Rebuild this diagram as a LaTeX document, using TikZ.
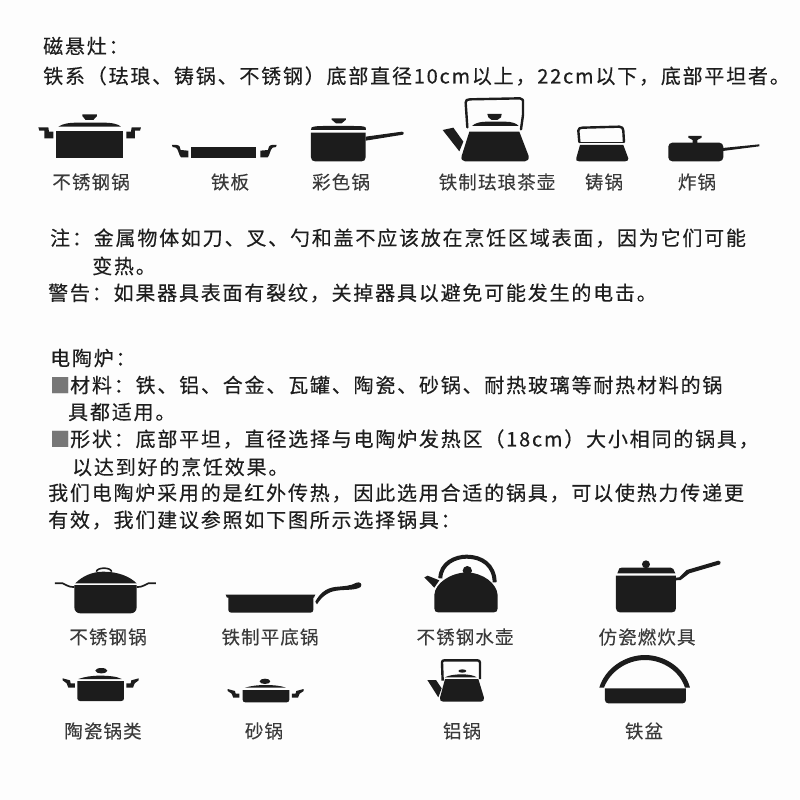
\documentclass[tikz,border=0pt]{standalone}
\usepackage{fontspec}
\newfontfamily\cjk[LetterSpace=9,FakeBold=0.3]{Noto Sans CJK SC}
\newfontfamily\cjklab[LetterSpace=6,FakeBold=0.15]{Noto Sans CJK SC}
\definecolor{bgc}{HTML}{FDFDFD}
\definecolor{ink}{HTML}{1C1C1C}
\definecolor{txt}{HTML}{1E1E1E}
\definecolor{lab}{HTML}{3A3A3A}
\definecolor{sq}{HTML}{777777}
\tikzset{
 body/.style={anchor=west,inner sep=0pt,text=txt,font=\cjk\fontsize{20pt}{22pt}\selectfont},
 lbl/.style={anchor=center,inner sep=0pt,text=lab,font=\cjklab\fontsize{18.5pt}{20pt}\selectfont},
 solid shape/.style={fill=ink,draw=none},
 wire/.style={draw=ink,line width=2.4pt,line cap=round,line join=round,fill=none},
 z1/.style={shift={(20,90)},x=0.3333pt,y=-0.3333pt},
 z2/.style={shift={(410,90)},x=0.3333pt,y=-0.3333pt},
 z3/.style={shift={(40,545)},x=0.3333pt,y=-0.3333pt},
 z4/.style={shift={(400,545)},x=0.3333pt,y=-0.3333pt},
 z5/.style={shift={(40,655)},x=0.3333pt,y=-0.3333pt},
 z6/.style={shift={(400,650)},x=0.3333pt,y=-0.3333pt},
}
\newcommand{\sqb}{\textcolor{sq}{■}}
\begin{document}
\begin{tikzpicture}[x=1pt,y=-1pt]
\fill[bgc] (0,0) rectangle (800,800);
\useasboundingbox (0,0) rectangle (800,800);
% text
\node[body] (t1) at (43,46) {磁悬灶：};
\node[body] (t2) at (43,76) {铁系（珐琅、铸锅、不锈钢）底部直径10cm以上，22cm以下，底部平坦者。};
\node[body] (t3) at (50,238) {注：金属物体如刀、叉、勺和盖不应该放在烹饪区域表面，因为它们可能};
\node[body] (t4) at (92,266) {变热。};
\node[body] (t5) at (48,293) {警告：如果器具表面有裂纹，关掉器具以避免可能发生的电击。};
\node[body] (t6) at (50,358) {电陶炉：};
\node[body] (t7) at (50,385) {\sqb 材料：铁、铝、合金、瓦罐、陶瓷、砂锅、耐热玻璃等耐热材料的锅};
\node[body] (t8) at (68,412) {具都适用。};
\node[body] (t9) at (50,439) {\sqb 形状：底部平坦，直径选择与电陶炉发热区（18cm）大小相同的锅具，};
\node[body] (t10) at (72,467) {以达到好的烹饪效果。};
\node[body] (t11) at (48,493) {我们电陶炉采用的是红外传热，因此选用合适的锅具，可以使热力传递更};
\node[body] (t12) at (48,520) {有效，我们建议参照如下图所示选择锅具：};
% labels
\node[lbl] (a1) at (91,182) {不锈钢锅};
\node[lbl] (a2) at (230,182) {铁板};
\node[lbl] (a3) at (341,182) {彩色锅};
\node[lbl] (a4) at (497,182) {铁制珐琅茶壶};
\node[lbl] (a5) at (604,182) {铸锅};
\node[lbl] (a6) at (697,182) {炸锅};
\node[lbl] (b1) at (108,637) {不锈钢锅};
\node[lbl] (b2) at (270,637) {铁制平底锅};
\node[lbl] (b3) at (465,637) {不锈钢水壶};
\node[lbl] (b4) at (647,637) {仿瓷燃炊具};
\node[lbl] (c1) at (103,731) {陶瓷锅类};
\node[lbl] (c2) at (264,731) {砂锅};
\node[lbl] (c3) at (462,731) {铝锅};
\node[lbl] (c4) at (644,731) {铁盆};
% row 1
\begin{scope}[z1]
 \fill[solid shape] (108,122) rectangle (310,203);
 \fill[solid shape] (115,110) .. controls (130,100) and (150,98) .. (170,98) -- (250,98) .. controls (275,98) and (295,102) .. (303,110) -- cycle;
 \fill[solid shape] (187,73) -- (231,73) -- (231,78) -- (220,90) -- (197,90) -- (187,78) -- cycle;
 \fill[solid shape] (55,112) -- (85,112) -- (87,125) -- (100,125) -- (100,145) -- (73,145) -- (73,122) -- (58,122) -- cycle;
 \fill[solid shape] (363,112) -- (335,112) -- (333,125) -- (319,125) -- (319,145) -- (345,145) -- (345,122) -- (360,122) -- cycle;
 \fill[solid shape] (514,172) rectangle (708,203);
 \fill[solid shape] (456,165) -- (470,165) .. controls (480,166) and (480,172) .. (482,180) -- (505,182) -- (505,202) -- (483,202) .. controls (476,196) and (476,178) .. (468,173) -- (458,171) -- cycle;
 \fill[solid shape] (770,165) -- (756,165) .. controls (746,166) and (746,172) .. (744,180) -- (721,182) -- (721,202) -- (743,202) .. controls (750,196) and (750,178) .. (758,173) -- (768,171) -- cycle;
 \fill[solid shape] (873,128) -- (1037,128) -- (1037,202) .. controls (1037,210) and (1032,214) .. (1025,214) -- (885,214) .. controls (878,214) and (873,210) .. (873,202) -- cycle;
 \fill[solid shape] (873,120) -- (875,112) .. controls (885,108) and (900,108) .. (910,108) -- (1000,108) .. controls (1020,108) and (1030,108) .. (1037,112) -- (1038,120) -- cycle;
 \fill[solid shape] (935,85) -- (978,85) -- (978,89) -- (965,100) -- (948,100) -- (935,89) -- cycle;
 \fill[solid shape] (1037,140) -- (1146,125) .. controls (1152,125) and (1154,131) .. (1149,134) -- (1037,152) -- cycle;
\end{scope}
\begin{scope}[z2]
 \fill[solid shape] (178,125) -- (328,125) -- (356,198) .. controls (358,208) and (352,214) .. (345,214) -- (165,214) .. controls (158,214) and (152,208) .. (155,198) -- cycle;
 \fill[solid shape] (98,120) -- (130,113) -- (160,155) -- (148,184) -- cycle;
 \fill[solid shape] (186,108) .. controls (195,98) and (215,95) .. (230,95) -- (285,95) .. controls (305,95) and (320,100) .. (326,108) -- cycle;
 \fill[solid shape] (232,72) -- (275,72) -- (273,82) -- (262,90) -- (245,90) -- (235,82) -- cycle;
 \draw[wire] (172,112) -- (167,38) .. controls (166,30) and (172,28) .. (180,28) -- (330,25) .. controls (338,26) and (340,30) .. (339,40) -- (339,75) -- (333,118);
 \fill[solid shape] (510,165) -- (640,165) -- (655,205) .. controls (656,211) and (652,214) .. (645,214) -- (507,214) .. controls (500,214) and (496,210) .. (499,204) -- cycle;
 \draw[wire] (508,156) -- (505,122) .. controls (505,115) and (510,113) .. (518,113) -- (628,110) .. controls (636,110) and (640,115) .. (640,122) -- (642,156);
 \draw[draw=ink,line width=1pt] (507,159) -- (643,159);
 \fill[solid shape,rounded corners=4pt] (775,158) rectangle (940,214);
 \fill[solid shape] (835,138) -- (875,138) -- (875,143) -- (862,150) -- (862,160) -- (848,160) -- (848,150) -- (835,143) -- cycle;
 \fill[solid shape] (938,174) -- (1048,163) -- (1048,169) -- (938,183) -- cycle;
\end{scope}
% row 2
\begin{scope}[z3]
 \fill[solid shape] (103,120) -- (290,120) -- (290,187) .. controls (290,198) and (282,205) .. (272,205) -- (121,205) .. controls (111,205) and (103,198) .. (103,187) -- cycle;
 \fill[solid shape] (106,115) .. controls (125,95) and (155,80) .. (190,80) .. controls (235,80) and (270,95) .. (290,115) -- cycle;
 \draw[draw=ink,line width=1.6pt] (169,80) .. controls (172,66) and (212,66) .. (215,80);
 \draw[draw=ink,line width=1.7pt] (45,115) -- (68,115) .. controls (78,116) and (78,126) .. (103,126);
 \draw[draw=ink,line width=1.7pt] (290,126) .. controls (315,126) and (315,116) .. (325,115) -- (348,115);
 \fill[solid shape] (557,149) -- (826,149) -- (822,158) -- (820,158) -- (820,195) .. controls (820,200) and (816,203) .. (811,203) -- (574,203) .. controls (569,203) and (565,200) .. (565,195) -- (565,158) -- (561,158) -- cycle;
 \fill[solid shape] (826,170) .. controls (838,148) and (855,130) .. (885,126) .. controls (910,123) and (930,124) .. (950,113) .. controls (960,109) and (968,117) .. (962,126) .. controls (945,137) and (915,133) .. (890,137) .. controls (865,140) and (845,155) .. (831,178) -- cycle;
\end{scope}
\begin{scope}[z4]
 \fill[solid shape] (103,150) .. controls (105,115) and (150,84) .. (200,82) .. controls (250,84) and (290,115) .. (293,150) -- (293,190) .. controls (293,198) and (289,202) .. (282,202) -- (114,202) .. controls (107,202) and (103,198) .. (103,190) -- cycle;
 \fill[solid shape] (73,97) -- (83,92) -- (118,106) -- (103,128) -- cycle;
 \fill[solid shape] (202,77) circle[radius=14];
 \draw[draw=ink,line width=4pt] (121,100) .. controls (122,55) and (165,35) .. (200,35) .. controls (245,35) and (283,60) .. (284,112);
 \fill[solid shape] (648,92) -- (828,92) -- (828,190) .. controls (828,198) and (823,202) .. (816,202) -- (660,202) .. controls (653,202) and (648,198) .. (648,190) -- cycle;
 \fill[solid shape] (652,85) -- (658,70) .. controls (660,68) and (662,68) .. (665,68) -- (812,68) .. controls (816,68) and (818,69) .. (820,72) -- (826,85) -- cycle;
 \fill[solid shape] (738,58) circle[radius=12];
 \fill[solid shape] (828,98) -- (838,97) -- (860,75) -- (955,47) .. controls (962,46) and (965,54) .. (960,58) -- (868,85) -- (842,105) -- (828,106) -- cycle;
\end{scope}
% row 3
\begin{scope}[z5]
 \fill[solid shape] (112,78) -- (252,78) -- (252,130) .. controls (252,135) and (249,138) .. (244,138) -- (120,138) .. controls (115,138) and (112,135) .. (112,130) -- cycle;
 \fill[solid shape] (115,72) .. controls (135,65) and (155,62) .. (180,62) .. controls (210,62) and (232,65) .. (245,72) -- cycle;
 \fill[solid shape] (184,47) ellipse[x radius=18,y radius=8];
 \fill[solid shape] (68,70) -- (90,76) -- (92,85) -- (105,85) -- (105,98) -- (85,98) -- (80,85) -- (68,76) -- cycle;
 \fill[solid shape] (296,70) -- (274,76) -- (272,85) -- (259,85) -- (259,98) -- (279,98) -- (284,85) -- (296,76) -- cycle;
 \fill[solid shape] (608,105) -- (748,105) -- (748,134) .. controls (748,139) and (745,142) .. (740,142) -- (616,142) .. controls (611,142) and (608,139) .. (608,134) -- cycle;
 \fill[solid shape] (615,98) .. controls (635,92) and (655,90) .. (678,90) .. controls (700,90) and (722,92) .. (738,98) -- cycle;
 \fill[solid shape] (675,79) ellipse[x radius=16,y radius=8];
 \fill[solid shape] (563,102) -- (585,108) -- (587,116) -- (598,116) -- (598,128) -- (580,128) -- (575,116) -- (563,108) -- cycle;
 \fill[solid shape] (791,102) -- (769,108) -- (767,116) -- (756,116) -- (756,128) -- (774,128) -- (779,116) -- (791,108) -- cycle;
\end{scope}
\begin{scope}[z6]
 \fill[solid shape] (135,87) -- (235,87) -- (252,143) .. controls (253,151) and (249,155) .. (243,155) -- (130,155) .. controls (123,155) and (118,151) .. (120,143) -- cycle;
 \fill[solid shape] (82,90) -- (108,90) -- (125,115) -- (115,142) -- cycle;
 \draw[draw=ink,line width=2.4pt,line join=round] (128,92) -- (126,38) .. controls (126,33) and (128,31) .. (133,31) -- (232,31) .. controls (237,31) and (240,33) .. (240,38) -- (240,87);
 \fill[solid shape] (135,82) .. controls (145,76) and (165,73) .. (185,73) .. controls (205,73) and (222,76) .. (230,82) -- cycle;
 \fill[solid shape] (187,63) ellipse[x radius=12,y radius=5];
 \fill[solid shape] (615,115) -- (858,115) -- (858,150) .. controls (858,156) and (854,160) .. (848,160) -- (625,160) .. controls (619,160) and (615,156) .. (615,150) -- cycle;
 \fill[solid shape] (598,113) .. controls (615,55) and (675,15) .. (735,15) .. controls (795,15) and (855,55) .. (870,113) -- (855,113) .. controls (840,65) and (790,30) .. (735,30) .. controls (680,30) and (630,65) .. (612,113) -- cycle;
\end{scope}
\end{tikzpicture}
\end{document}
